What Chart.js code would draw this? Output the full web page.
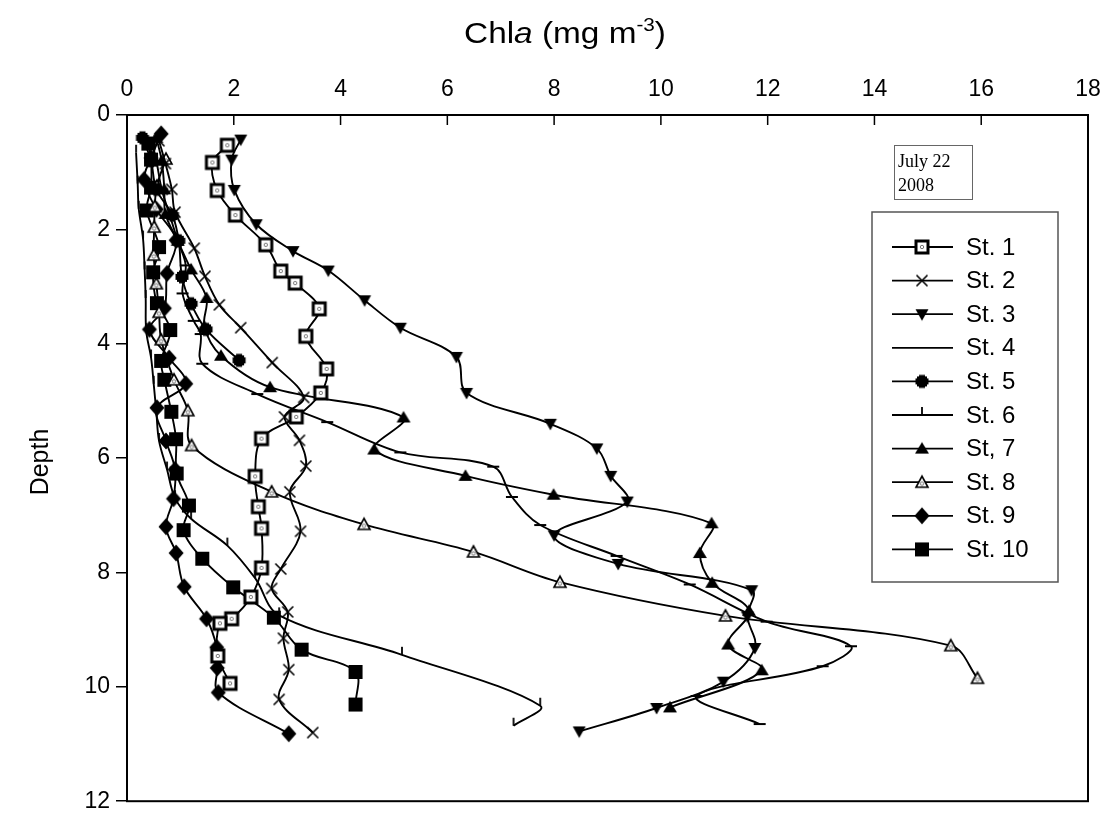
<!DOCTYPE html>
<html>
<head>
<meta charset="utf-8">
<script src="https://cdn.jsdelivr.net/npm/chart.js@4.4.1/dist/chart.umd.min.js"></script>
<style>
  body { margin: 0; background: #fff; }
  #wrap { position: relative; width: 1113px; height: 821px; }
</style>
</head>
<body>
<div id="wrap"><canvas id="profileChart"></canvas></div>
<script>
// Chla profiles, July 22 2008 (depth in m, Chla in mg m-3)
const stationLabels = ['St. 1', 'St. 2', 'St. 3', 'St. 4', 'St. 5', 'St. 6', 'St, 7', 'St. 8', 'St. 9', 'St. 10'];
const xTicks = [0, 2, 4, 6, 8, 10, 12, 14, 16, 18];
const yTicks = [0, 2, 4, 6, 8, 10, 12];

const st1Depth = [0.53, 0.83, 1.32, 1.75, 2.27, 2.73, 2.94, 3.39, 3.87, 4.44, 4.86, 5.28, 5.66, 6.32, 6.85, 7.23, 7.92, 8.43, 8.81, 8.89, 9.46, 9.94];
const st1Chl   = [1.88, 1.60, 1.69, 2.03, 2.60, 2.88, 3.15, 3.60, 3.35, 3.74, 3.63, 3.17, 2.52, 2.40, 2.46, 2.52, 2.52, 2.32, 1.96, 1.74, 1.70, 1.93];

const st2Depth = [0.45, 0.85, 1.30, 1.70, 2.33, 2.82, 3.32, 3.72, 4.33, 4.94, 5.28, 5.69, 6.14, 6.59, 7.28, 7.94, 8.28, 8.69, 9.15, 9.70, 10.22, 10.80];
const st2Chl   = [0.60, 0.72, 0.84, 0.90, 1.26, 1.46, 1.73, 2.13, 2.72, 3.31, 2.95, 3.23, 3.35, 3.05, 3.25, 2.88, 2.71, 3.01, 2.93, 3.03, 2.85, 3.48];

const st3Depth = [0.43, 0.78, 1.31, 1.91, 2.38, 2.72, 3.24, 3.72, 4.23, 4.86, 5.40, 5.83, 6.31, 6.76, 7.35, 7.85, 8.31, 8.77, 9.32, 9.91, 10.37, 10.78];
const st3Chl   = [2.13, 1.96, 2.01, 2.42, 3.11, 3.77, 4.45, 5.12, 6.17, 6.36, 7.93, 8.80, 9.06, 9.37, 8.00, 9.20, 11.70, 11.62, 11.76, 11.17, 9.92, 8.47];

const st4Depth = [0.40, 0.80, 1.30, 1.75, 2.20, 2.63, 3.12, 3.60, 3.83, 4.35, 4.88, 5.37, 5.90, 6.15, 6.68, 7.17, 7.71, 8.21, 8.86, 9.29, 9.64, 10.16, 10.65];
const st4Chl   = [0.45, 0.55, 0.65, 0.80, 0.95, 1.10, 1.04, 1.25, 1.38, 1.41, 2.44, 3.75, 5.12, 6.86, 7.21, 7.74, 9.17, 10.54, 11.98, 13.56, 13.03, 10.67, 11.85];

const st5Depth = [0.40, 0.80, 1.30, 1.75, 2.20, 2.83, 3.30, 3.75, 4.29];
const st5Chl   = [0.29, 0.45, 0.55, 0.85, 0.97, 1.03, 1.20, 1.48, 2.10];

const st6Depth = [0.66, 1.20, 1.64, 2.16, 2.70, 3.20, 3.78, 4.24, 4.70, 5.20, 5.70, 6.20, 6.70, 7.06, 7.53, 8.10, 8.75, 9.44, 10.33, 10.68];
const st6Chl   = [0.17, 0.20, 0.22, 0.30, 0.33, 0.35, 0.36, 0.45, 0.50, 0.55, 0.60, 0.75, 0.90, 1.20, 1.88, 2.40, 2.85, 5.15, 7.74, 7.24];

const st7Depth = [0.40, 0.80, 1.30, 1.73, 2.20, 2.70, 3.20, 3.70, 4.21, 4.76, 5.29, 5.85, 6.31, 6.64, 7.14, 7.66, 8.18, 8.67, 9.26, 9.71, 10.36];
const st7Chl   = [0.55, 0.65, 0.70, 0.72, 0.95, 1.20, 1.49, 1.45, 1.76, 2.68, 5.18, 4.63, 6.34, 7.99, 10.95, 10.73, 10.96, 11.65, 11.26, 11.89, 10.17];

const st8Depth = [0.77, 1.24, 1.60, 1.96, 2.45, 2.95, 3.45, 3.93, 4.63, 5.17, 5.78, 6.59, 7.16, 7.64, 8.17, 8.76, 9.28, 9.85];
const st8Chl   = [0.73, 0.56, 0.52, 0.51, 0.50, 0.55, 0.60, 0.64, 0.88, 1.14, 1.21, 2.71, 4.44, 6.49, 8.11, 11.21, 15.43, 15.93];

const st9Depth = [0.33, 0.75, 1.13, 1.65, 2.19, 2.77, 3.38, 3.75, 4.25, 4.70, 5.12, 5.70, 6.20, 6.71, 7.20, 7.66, 8.25, 8.81, 9.31, 9.67, 10.10, 10.82];
const st9Chl   = [0.64, 0.45, 0.32, 0.55, 0.92, 0.75, 0.70, 0.42, 0.79, 1.10, 0.56, 0.73, 0.90, 0.87, 0.73, 0.92, 1.07, 1.49, 1.68, 1.69, 1.71, 3.03];

const st10Depth = [0.50, 0.78, 1.27, 1.67, 2.31, 2.75, 3.29, 3.76, 4.30, 4.63, 5.19, 5.67, 6.27, 6.83, 7.26, 7.76, 8.26, 8.79, 9.35, 9.74, 10.31];
const st10Chl   = [0.40, 0.45, 0.45, 0.37, 0.60, 0.49, 0.56, 0.81, 0.64, 0.70, 0.83, 0.92, 0.93, 1.16, 1.06, 1.41, 1.99, 2.75, 3.27, 4.28, 4.28];

const FONT = 'Arial, "Liberation Sans", sans-serif';

// small canvases used as point markers (also reused in the legend)
function makeMarker(draw) {
  const c = document.createElement('canvas');
  c.width = 22; c.height = 22;
  const g = c.getContext('2d');
  g.translate(11, 11);
  g.fillStyle = '#000';
  g.strokeStyle = '#000';
  draw(g);
  return c;
}
function centerDot(g, dy) {
  g.beginPath(); g.arc(0, dy, 1.7, 0, Math.PI * 2);
  g.lineWidth = 1; g.strokeStyle = '#777'; g.stroke();
}
const markers = [
  makeMarker(g => { g.fillStyle = '#fff'; g.fillRect(-6, -6, 12, 12); g.lineWidth = 3; g.strokeRect(-6, -6, 12, 12); centerDot(g, 0); }),
  makeMarker(g => { g.lineWidth = 1.6; g.beginPath(); g.moveTo(-5.5, -5.5); g.lineTo(5.5, 5.5); g.moveTo(-5.5, 5.5); g.lineTo(5.5, -5.5); g.stroke(); }),
  makeMarker(g => { g.beginPath(); g.moveTo(-6.5, -5); g.lineTo(6.5, -5); g.lineTo(0, 6.5); g.closePath(); g.fill(); }),
  makeMarker(g => { g.lineWidth = 2; g.beginPath(); g.moveTo(-6, 0); g.lineTo(6, 0); g.stroke(); }),
  makeMarker(g => { g.fillRect(-6.5, -3, 13, 6); g.fillRect(-3, -6.5, 6, 13); g.fillRect(-5, -5, 10, 10); }),
  makeMarker(g => { g.lineWidth = 1.8; g.beginPath(); g.moveTo(0, 0); g.lineTo(0, -8); g.stroke(); }),
  makeMarker(g => { g.beginPath(); g.moveTo(0, -6.5); g.lineTo(7, 5); g.lineTo(-7, 5); g.closePath(); g.fill(); }),
  makeMarker(g => { g.beginPath(); g.moveTo(0, -6); g.lineTo(6, 5); g.lineTo(-6, 5); g.closePath(); g.fillStyle = '#fff'; g.fill(); g.lineWidth = 1.6; g.stroke(); centerDot(g, 1.5); }),
  makeMarker(g => { g.beginPath(); g.moveTo(0, -8.5); g.lineTo(7.5, 0); g.lineTo(0, 8.5); g.lineTo(-7.5, 0); g.closePath(); g.fill(); }),
  makeMarker(g => { g.fillRect(-7, -7, 14, 14); })
];

const depthSets = [st1Depth, st2Depth, st3Depth, st4Depth, st5Depth, st6Depth, st7Depth, st8Depth, st9Depth, st10Depth];
const chlSets = [st1Chl, st2Chl, st3Chl, st4Chl, st5Chl, st6Chl, st7Chl, st8Chl, st9Chl, st10Chl];

const datasets = stationLabels.map((label, i) => ({
  label: label,
  data: chlSets[i].map((v, k) => ({ x: v, y: depthSets[i][k] })),
  borderColor: '#000',
  borderWidth: 1.9,
  tension: 0.35,
  fill: false,
  pointStyle: markers[i],
  pointRadius: 5
}));

// frame, inward x ticks, titles, date note and legend box
const decorPlugin = {
  id: 'decor',
  afterDraw(chart) {
    const ctx = chart.ctx;
    const a = chart.chartArea;
    const xs = chart.scales.x;
    ctx.save();
    ctx.strokeStyle = '#000';
    ctx.lineWidth = 2;
    ctx.strokeRect(a.left, a.top, a.right - a.left, a.bottom - a.top);

    ctx.lineWidth = 1.5;
    xTicks.forEach(t => {
      const px = xs.getPixelForValue(t);
      ctx.beginPath(); ctx.moveTo(px, a.top); ctx.lineTo(px, a.top + 10); ctx.stroke();
    });

    // x title: Chla (mg m-3), slightly widened like the original
    ctx.fillStyle = '#000';
    ctx.textBaseline = 'alphabetic';
    ctx.textAlign = 'left';
    const parts = [
      { t: 'Chl', f: '29px ' + FONT, dy: 0 },
      { t: 'a', f: 'italic 29px ' + FONT, dy: 0 },
      { t: ' (mg m', f: '29px ' + FONT, dy: 0 },
      { t: '-3', f: '18px ' + FONT, dy: -12 },
      { t: ')', f: '29px ' + FONT, dy: 0 }
    ];
    const stretch = 1.15;
    let total = 0;
    parts.forEach(p => { ctx.font = p.f; p.w = ctx.measureText(p.t).width; total += p.w; });
    ctx.save();
    ctx.translate(565 - total * stretch / 2, 43);
    ctx.scale(stretch, 1);
    let cx = 0;
    parts.forEach(p => { ctx.font = p.f; ctx.fillText(p.t, cx, p.dy); cx += p.w; });
    ctx.restore();

    // y title
    ctx.save();
    ctx.translate(41, 462);
    ctx.rotate(-Math.PI / 2);
    ctx.textAlign = 'center';
    ctx.textBaseline = 'middle';
    ctx.font = '25px ' + FONT;
    ctx.fillText('Depth', 0, 0);
    ctx.restore();

    // date note
    ctx.strokeStyle = '#666';
    ctx.lineWidth = 1;
    ctx.strokeRect(894.5, 145.5, 78, 54);
    ctx.font = '18px "Liberation Serif", "Times New Roman", serif';
    ctx.textBaseline = 'alphabetic';
    ctx.fillText('July 22', 898, 167);
    ctx.fillText('2008', 898, 191);

    // legend
    ctx.strokeStyle = '#555';
    ctx.lineWidth = 1.5;
    ctx.strokeRect(872, 212, 186, 370);
    ctx.font = '24px ' + FONT;
    ctx.textBaseline = 'middle';
    stationLabels.forEach((label, i) => {
      const y = 247 + i * 33.6;
      ctx.strokeStyle = '#000';
      ctx.lineWidth = 1.8;
      ctx.beginPath(); ctx.moveTo(892, y); ctx.lineTo(953, y); ctx.stroke();
      if (i !== 3) ctx.drawImage(markers[i], 922 - 11, y - 11);
      ctx.fillText(label, 966, y + 1);
    });
    ctx.restore();
  }
};

new Chart(document.getElementById('profileChart'), {
  type: 'line',
  data: { datasets: datasets },
  options: {
    responsive: true,
    maintainAspectRatio: false,
    animation: false,
    layout: { padding: { left: 0, top: 0, right: 25, bottom: 13 } },
    plugins: {
      legend: { display: false },
      tooltip: { enabled: false }
    },
    scales: {
      x: {
        type: 'linear',
        position: 'top',
        min: 0,
        max: 18,
        afterFit(scale) { scale.height = 115; },
        afterBuildTicks(scale) { scale.ticks = xTicks.map(v => ({ value: v })); },
        grid: { display: false, drawTicks: false },
        border: { display: true, color: '#000', width: 2 },
        ticks: { color: '#000', padding: 12, maxRotation: 0, font: { size: 23, family: FONT } }
      },
      y: {
        type: 'linear',
        reverse: true,
        min: 0,
        max: 12,
        afterFit(scale) { scale.width = 127; },
        afterBuildTicks(scale) { scale.ticks = yTicks.map(v => ({ value: v })); },
        grid: { drawOnChartArea: false, drawTicks: true, tickLength: 11, color: '#000', lineWidth: 1.5 },
        border: { display: true, color: '#000', width: 2 },
        ticks: { color: '#000', padding: 6, font: { size: 23, family: FONT } }
      }
    }
  },
  plugins: [decorPlugin]
});
</script>
</body>
</html>
